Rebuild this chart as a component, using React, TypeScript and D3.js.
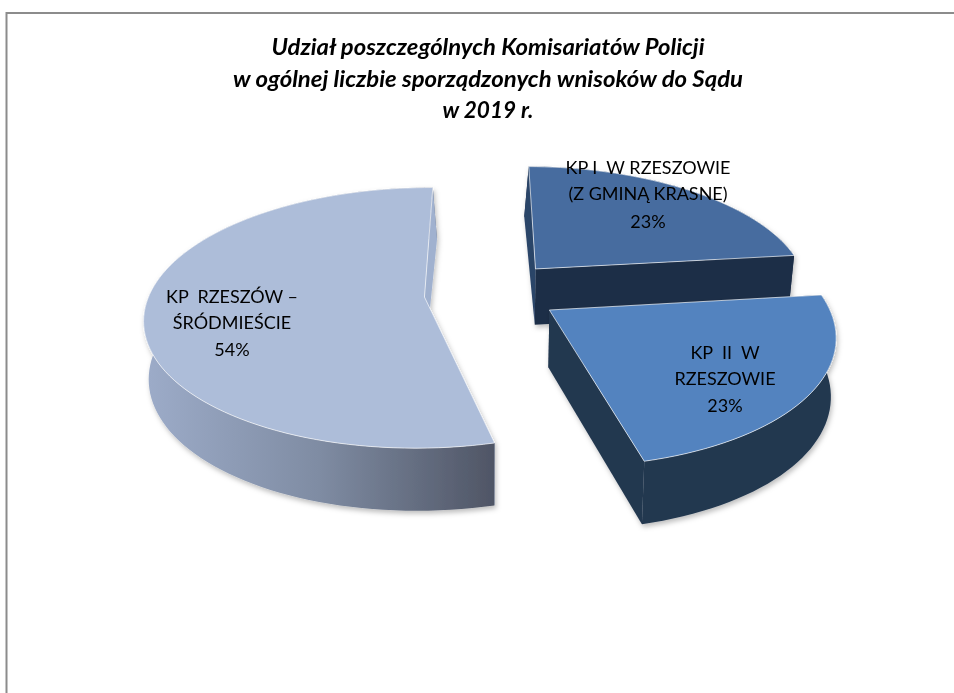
import React from 'react';
import * as d3 from 'd3';

const titleLines = ['Udział poszczególnych Komisariatów Policji', 'w ogólnej liczbie sporządzonych wnisoków do Sądu', 'w 2019 r.'];
const titleWidths = [433, 510, 91];
const categories = ['KP I  W RZESZOWIE (Z GMINĄ KRASNE)', 'KP  II  W RZESZOWIE', 'KP  RZESZÓW – ŚRÓDMIEŚCIE'];
const values = [23, 23, 54];
const labelLines = [
  ['KP I  W RZESZOWIE', '(Z GMINĄ KRASNE)', '23%'],
  ['KP  II  W', 'RZESZOWIE', '23%'],
  ['KP  RZESZÓW –', 'ŚRÓDMIEŚCIE', '54%'],
];
const labelX = [648, 725, 232];
const labelY = [[174, 200, 228], [359, 385, 412], [303, 329, 356]];
const explodeX = [0.246, 0.283, -0.165];
const explodeY = [0.229, -0.1008, 0];
const topColors = ['#466c9f', '#5283bf', '#adbdd9'];
const wallColors = ['#1d2e47', '#233850', 'url(#bigWall)'];
const frontCutColors = ['#1d2e47', '#233850', '#a0b1cf'];
const backCutColors = ['#2b4468', '#233850', '#a0b1cf'];
const drawOrder = [0, 2, 1];

const cx = 470, cy = 297, F = 276, G = 127, K = 0.16, VX = 485;
const START = (0.5 * Math.PI) / 180;

type P = [number, number, number];
const project = (px: number, py: number): P => {
  const w = 1 + K * py;
  return [cx + (F * px) / w, cy - (G * py) / w, w];
};
const drop = (p: P): [number, number] => {
  const s = 0.985 - 0.6 * Math.max(0, p[2] - 1.05);
  return [VX + (p[0] - VX) * s, p[1] + 57 - 35 * (p[2] - 1)];
};
const line = d3.line<[number, number]>().x(d => d[0]).y(d => d[1]);

export default function App() {
  const arcs = d3.pie<number>().sort(null).startAngle(START).endAngle(START + 2 * Math.PI)(values);
  const slices = arcs.map((a, i) => {
    const n = Math.ceil(((a.endAngle - a.startAngle) * 180) / Math.PI / 2);
    const rim: P[] = d3.range(n + 1).map(k => {
      const t = a.startAngle + ((a.endAngle - a.startAngle) * k) / n;
      return project(explodeX[i] + Math.sin(t), explodeY[i] + Math.cos(t));
    });
    const apex = project(explodeX[i], explodeY[i]);
    const rim2 = rim.map(p => [p[0], p[1]] as [number, number]);
    const top = line([[apex[0], apex[1]], ...rim2])! + 'Z';
    const bottom = rim.map(drop);
    const wall = line([...rim2, ...bottom.slice().reverse()])! + 'Z';
    const cutAt = (p: P) => line([[apex[0], apex[1]], [p[0], p[1]], drop(p), drop(apex)])! + 'Z';
    const ends = [
      { d: cutAt(rim[0]), back: Math.cos(a.startAngle) > 0.5 },
      { d: cutAt(rim[rim.length - 1]), back: Math.cos(a.endAngle) > 0.5 },
    ];
    return {
      top,
      wall,
      frontCuts: ends.filter(e => !e.back).map(e => e.d),
      backCuts: ends.filter(e => e.back).map(e => e.d),
    };
  });

  return (
    <svg width={954} height={693} style={{ position: 'absolute', left: 0, top: 0, background: '#fff' }}>
      <defs>
        <linearGradient id="bigWall" gradientUnits="userSpaceOnUse" x1={143} x2={495} y1={0} y2={0}>
          <stop offset="0" stopColor="#9dacc9" />
          <stop offset="0.5" stopColor="#7f8ca3" />
          <stop offset="1" stopColor="#4f5565" />
        </linearGradient>
        <filter id="shadow" x="-10%" y="-10%" width="120%" height="125%">
          <feDropShadow dx="1.5" dy="3" stdDeviation="2.5" floodColor="#000" floodOpacity="0.25" />
        </filter>
        <filter id="soft" x="-5%" y="-20%" width="110%" height="140%">
          <feGaussianBlur stdDeviation="0.45" />
        </filter>
      </defs>
      <rect x={0} y={0} width={954} height={693} fill="#fff" />
      <path d="M6.5,693V13H954" fill="none" stroke="#8c8c8c" strokeWidth={2} />
      {drawOrder.map(idx => {
        const s = slices[idx];
        return (
          <g key={categories[idx]} filter="url(#shadow)">
            {s.frontCuts.map(d => <path key={d} d={d} fill={frontCutColors[idx]} />)}
            <path d={s.wall} fill={wallColors[idx]} />
            {s.backCuts.map(d => <path key={d} d={d} fill={backCutColors[idx]} />)}
            <path d={s.top} fill={topColors[idx]} stroke="#fff" strokeOpacity={0.65} strokeWidth={1} strokeLinejoin="round" />
          </g>
        );
      })}
      <g filter="url(#soft)" fontFamily="Lato, 'Open Sans', sans-serif" fill="#000" textAnchor="middle">
        {titleLines.map((t, i) => (
          <text key={t} x={488} y={[55, 87, 118][i]} fontSize={22} fontWeight={700} fontStyle="italic" textLength={titleWidths[i]} lengthAdjust="spacingAndGlyphs">{t}</text>
        ))}
        {labelLines.map((lines, i) =>
          lines.map((t, j) => (
            <text key={i + '-' + j} x={labelX[i]} y={labelY[i][j]} fontSize={18} xmlSpace="preserve">{t}</text>
          ))
        )}
      </g>
    </svg>
  );
}
